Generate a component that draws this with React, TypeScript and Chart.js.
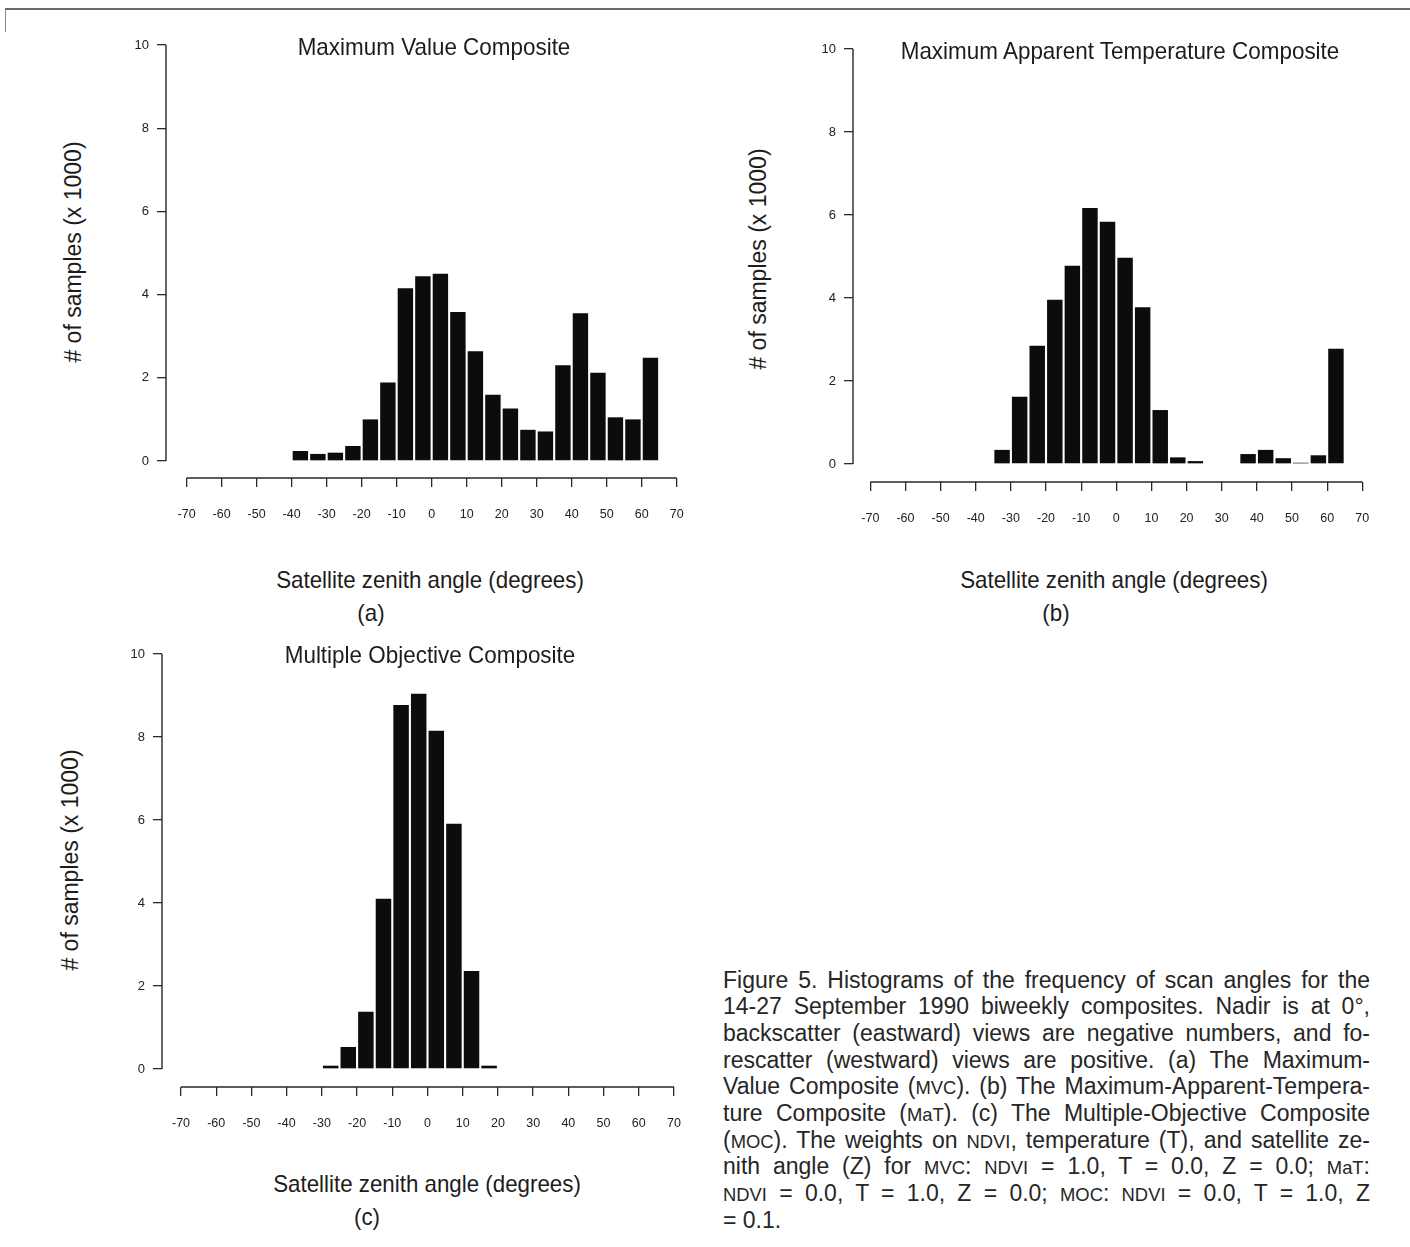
import React, { useEffect, useRef } from 'react';
import { Chart, registerables } from 'chart.js';

Chart.register(...registerables);

// ---------------- data ----------------
const X_TICKS = [-70, -60, -50, -40, -30, -20, -10, 0, 10, 20, 30, 40, 50, 60, 70];
const Y_TICKS = [0, 2, 4, 6, 8, 10];
const BIN_WIDTH = 5;

// (a) Maximum Value Composite — bin lower edges (degrees) and counts (x 1000)
const BINS_MVC = [-40, -35, -30, -25, -20, -15, -10, -5, 0, 5, 10, 15, 20, 25, 30, 35, 40, 45, 50, 55, 60];
const COUNTS_MVC = [0.24, 0.17, 0.2, 0.36, 1.0, 1.89, 4.15, 4.44, 4.5, 3.58, 2.64, 1.59, 1.26, 0.75, 0.71, 2.3, 3.55, 2.12, 1.05, 1.0, 2.48];

// (b) Maximum Apparent Temperature Composite
const BINS_MAT = [-35, -30, -25, -20, -15, -10, -5, 0, 5, 10, 15, 20, 25, 30, 35, 40, 45, 50, 55, 60];
const COUNTS_MAT = [0.34, 1.62, 2.85, 3.96, 4.78, 6.17, 5.84, 4.97, 3.78, 1.3, 0.16, 0.07, 0, 0, 0.24, 0.34, 0.14, 0.03, 0.21, 2.78];

// (c) Multiple Objective Composite
const BINS_MOC = [-30, -25, -20, -15, -10, -5, 0, 5, 10, 15];
const COUNTS_MOC = [0.08, 0.53, 1.38, 4.1, 8.77, 9.04, 8.15, 5.91, 2.36, 0.08];

const TITLES = [
  'Maximum Value Composite',
  'Maximum Apparent Temperature Composite',
  'Multiple Objective Composite',
];
const X_TITLE = 'Satellite zenith angle (degrees)';
const Y_TITLE = '# of samples (x 1000)';
const PANEL_TAGS = ['(a)', '(b)', '(c)'];

// ---------------- layout ----------------
const FONT = '"Liberation Sans", Arial, Helvetica, sans-serif';
const INK = '#1c1c1c';
const AXIS = '#2a2a2a';
const BAR = '#0c0c0c';

const YW = 70; // y scale box width
const XH = 55; // x scale box height
const PT = 20; // top padding
const PR = 25; // right padding

type Geo = {
  axisX: number; xFirst: number; xLast: number;
  y0: number; y10: number; axisY: number;
  title: [number, number]; xTitle: [number, number]; tag: [number, number]; yTitle: [number, number];
};

const GEOS: Geo[] = [
  { axisX: 166, xFirst: 186.6, xLast: 676.7, y0: 461, y10: 45, axisY: 478,
    title: [433.5, 47], xTitle: [430, 580], tag: [371, 613], yTitle: [73, 252] },
  { axisX: 853, xFirst: 870.3, xLast: 1362.3, y0: 464, y10: 49, axisY: 482,
    title: [1120, 51], xTitle: [1114, 580], tag: [1056, 613], yTitle: [758, 259] },
  { axisX: 162, xFirst: 181, xLast: 674, y0: 1069, y10: 654, axisY: 1087,
    title: [429.5, 655], xTitle: [426.7, 1184], tag: [367, 1217], yTitle: [70, 860] },
];

const axisLinePlugin = {
  id: 'axisLines',
  afterDraw(chart: any) {
    const { ctx, chartArea } = chart;
    const x = chart.scales.x;
    const y = chart.scales.y;
    ctx.save();
    ctx.strokeStyle = AXIS;
    ctx.lineWidth = 1.4;
    ctx.beginPath();
    ctx.moveTo(chartArea.left, y.getPixelForValue(Y_TICKS[0]));
    ctx.lineTo(chartArea.left, y.getPixelForValue(Y_TICKS[Y_TICKS.length - 1]));
    ctx.moveTo(x.getPixelForValue(X_TICKS[0]), chartArea.bottom);
    ctx.lineTo(x.getPixelForValue(X_TICKS[X_TICKS.length - 1]), chartArea.bottom);
    ctx.stroke();
    ctx.restore();
  },
};

function Histogram({ geo, bins, counts }: { geo: Geo; bins: number[]; counts: number[] }) {
  const ref = useRef<HTMLCanvasElement>(null);
  const xA = X_TICKS[0];
  const xB = X_TICKS[X_TICKS.length - 1];
  const pxd = (geo.xLast - geo.xFirst) / (xB - xA);
  const left = Math.round(geo.axisX - YW);
  const top = Math.round(geo.y10 - PT);
  const areaRightWanted = geo.xLast + (geo.xFirst - geo.axisX);
  const width = Math.round(areaRightWanted + PR - left);
  const height = Math.round(PT + (geo.axisY - geo.y10) + XH);
  const areaLeft = left + YW;
  const areaRight = left + width - PR;
  const xmin = xA - (geo.xFirst - areaLeft) / pxd;
  const xmax = xB + (areaRight - geo.xLast) / pxd;
  const yTop = Y_TICKS[Y_TICKS.length - 1];
  const pxu = (geo.y0 - geo.y10) / (yTop - Y_TICKS[0]);
  const areaTop = top + PT;
  const areaBottom = top + height - XH;
  const ymax = yTop + (geo.y10 - areaTop) / pxu;
  const ymin = Y_TICKS[0] - (areaBottom - geo.y0) / pxu;

  useEffect(() => {
    if (!ref.current) return;
    const gridOpts = {
      display: true, drawOnChartArea: false, drawTicks: true, tickLength: 9,
      color: AXIS, lineWidth: 1.3, offset: false,
    };
    const chart = new Chart(ref.current, {
      type: 'bar',
      data: {
        datasets: [{
          data: bins.map((b, i) => ({ x: b + BIN_WIDTH / 2, y: counts[i] })),
          backgroundColor: BAR,
          borderWidth: 0,
          barPercentage: 0.88,
          categoryPercentage: 1,
        }],
      },
      options: {
        responsive: false,
        animation: false,
        events: [],
        layout: { padding: { top: PT, right: PR, left: 0, bottom: 0 } },
        plugins: { legend: { display: false }, tooltip: { enabled: false }, title: { display: false } },
        scales: {
          x: {
            type: 'linear', min: xmin, max: xmax, offset: false, bounds: 'data',
            afterBuildTicks: (s: any) => { s.ticks = X_TICKS.map((v) => ({ value: v })); },
            afterFit: (s: any) => { s.height = XH; s.paddingLeft = 0; s.paddingRight = 0; s.paddingTop = 0; s.paddingBottom = 0; },
            grid: gridOpts,
            border: { display: false },
            ticks: { autoSkip: false, maxRotation: 0, minRotation: 0, padding: 20, color: '#222', font: { size: 12.5, family: FONT } },
          },
          y: {
            type: 'linear', min: ymin, max: ymax, bounds: 'data',
            afterBuildTicks: (s: any) => { s.ticks = Y_TICKS.map((v) => ({ value: v })); },
            afterFit: (s: any) => { s.width = YW; s.paddingLeft = 0; s.paddingRight = 0; s.paddingTop = 0; s.paddingBottom = 0; },
            grid: gridOpts,
            border: { display: false },
            ticks: { autoSkip: false, padding: 8, color: '#222', font: { size: 13, family: FONT } },
          },
        },
      } as any,
      plugins: [axisLinePlugin],
    });
    return () => chart.destroy();
  }, []);

  return (
    <canvas
      ref={ref}
      width={width}
      height={height}
      style={{ position: 'absolute', left, top, width, height }}
    />
  );
}

const textBase: React.CSSProperties = {
  position: 'absolute',
  fontFamily: FONT,
  color: INK,
  whiteSpace: 'nowrap',
  lineHeight: 1,
};

function Label({ at, text, size, scaleX = 1, rotate = 0 }: { at: [number, number]; text: string; size: number; scaleX?: number; rotate?: number }) {
  return (
    <div
      style={{
        ...textBase,
        left: at[0],
        top: at[1],
        fontSize: size,
        transform: `translate(-50%, -50%) rotate(${rotate}deg) scaleX(${scaleX})`,
      }}
    >
      {text}
    </div>
  );
}

const sc: React.CSSProperties = { fontSize: '0.8em' };

const CAPTION_LINES: React.ReactNode[] = [
  <>Figure 5. Histograms of the frequency of scan angles for the</>,
  <>14-27 September 1990 biweekly composites. Nadir is at 0°,</>,
  <>backscatter (eastward) views are negative numbers, and fo-</>,
  <>rescatter (westward) views are positive. (a) The Maximum-</>,
  <>Value Composite (<span style={sc}>MVC</span>). (b) The Maximum-Apparent-Tempera-</>,
  <>ture Composite (<span style={sc}>MaT</span>). (c) The Multiple-Objective Composite</>,
  <>(<span style={sc}>MOC</span>). The weights on <span style={sc}>NDVI</span>, temperature (T), and satellite ze-</>,
  <>nith angle (Z) for <span style={sc}>MVC</span>: <span style={sc}>NDVI</span> = 1.0, T = 0.0, Z = 0.0; <span style={sc}>MaT</span>:</>,
  <><span style={sc}>NDVI</span> = 0.0, T = 1.0, Z = 0.0; <span style={sc}>MOC</span>: <span style={sc}>NDVI</span> = 0.0, T = 1.0, Z</>,
  <>= 0.1.</>,
];

export default function App() {
  const series = [
    { bins: BINS_MVC, counts: COUNTS_MVC },
    { bins: BINS_MAT, counts: COUNTS_MAT },
    { bins: BINS_MOC, counts: COUNTS_MOC },
  ];
  const capLeft = 723;
  const capWidth = 647;
  const capLH = 26.7;
  const capTop = 980 - capLH / 2;
  return (
    <div style={{ position: 'absolute', left: 0, top: 0, width: 1410, height: 1247, background: '#fff', overflow: 'hidden' }}>
      <div style={{ position: 'absolute', left: 5, top: 8, width: 1405, height: 22, borderTop: '2px solid #6a6a6a', borderLeft: '1.5px solid #8a8a8a' }} />
      {GEOS.map((g, i) => (
        <React.Fragment key={i}>
          <Histogram geo={g} bins={series[i].bins} counts={series[i].counts} />
          <Label at={g.title} text={TITLES[i]} size={24} scaleX={0.935} />
          <Label at={g.xTitle} text={X_TITLE} size={24} scaleX={0.93} />
          <Label at={g.tag} text={PANEL_TAGS[i]} size={24} scaleX={0.93} />
          <Label at={g.yTitle} text={Y_TITLE} size={23} rotate={-90} />
        </React.Fragment>
      ))}
      <div style={{ position: 'absolute', left: capLeft, top: capTop, width: capWidth, fontFamily: FONT, fontSize: 23, lineHeight: `${capLH}px`, color: '#262626' }}>
        {CAPTION_LINES.map((ln, i) => (
          <div
            key={i}
            style={{
              width: capWidth,
              whiteSpace: 'nowrap',
              textAlign: i === CAPTION_LINES.length - 1 ? 'left' : 'justify',
              textAlignLast: i === CAPTION_LINES.length - 1 ? 'left' : 'justify',
              height: capLH,
            } as React.CSSProperties}
          >
            {ln}
          </div>
        ))}
      </div>
    </div>
  );
}
